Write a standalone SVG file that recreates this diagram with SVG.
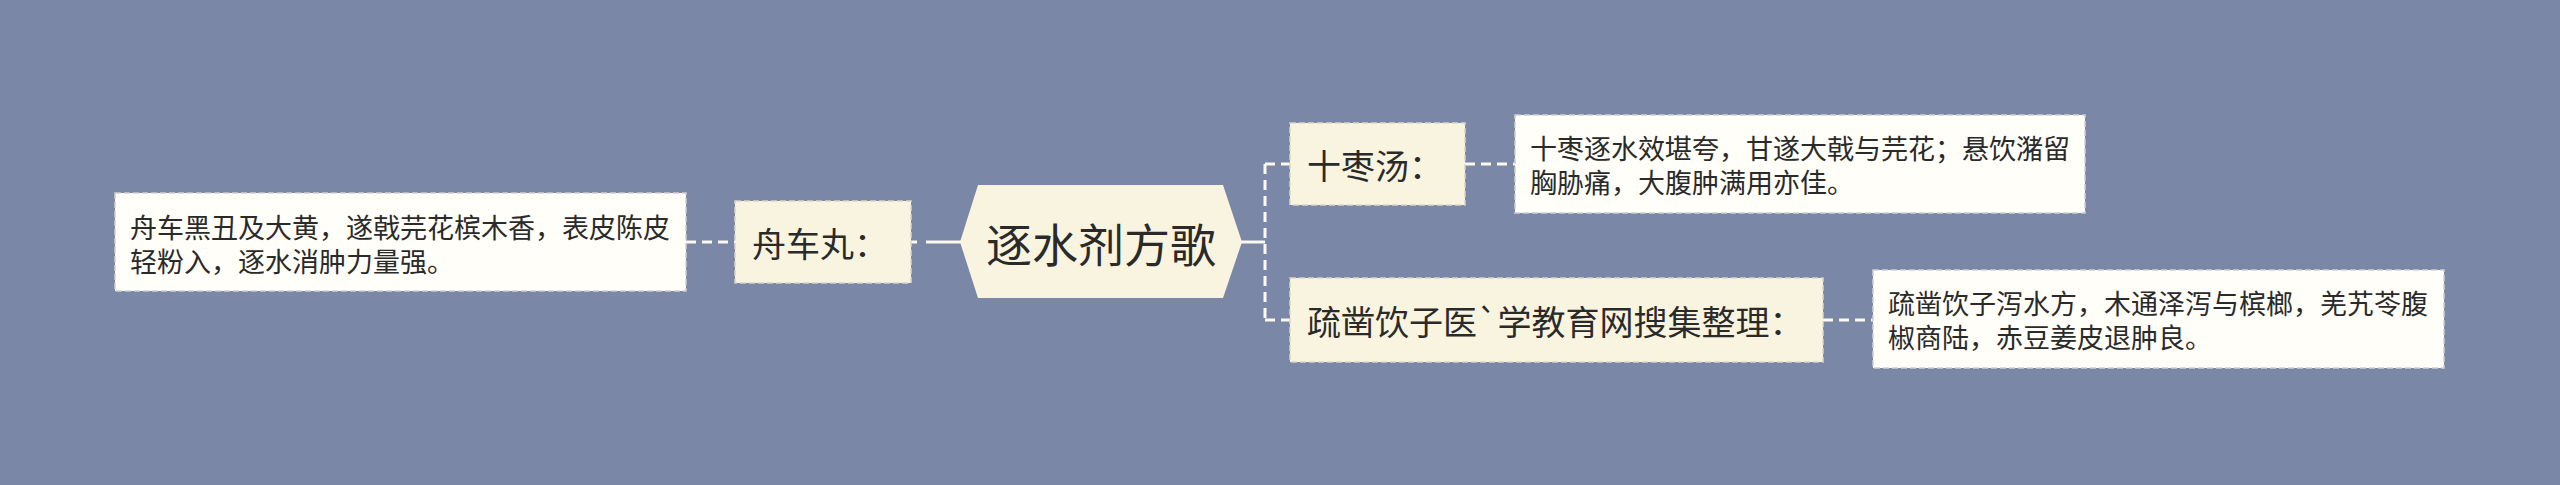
<svg xmlns="http://www.w3.org/2000/svg" width="2560" height="485" viewBox="0 0 2560 485">
  <style>
    text { font-family: "Noto Sans CJK SC", "Noto Sans", sans-serif; fill: #2a2a2a; dominant-baseline: central; }
    .root { font-size: 46px; }
    .l1 { font-size: 34px; }
    .leaf { font-size: 27px; }
    .l1box { fill: #f9f4df; stroke: #d9d6c8; stroke-width: 1.5; stroke-dasharray: 6 3; }
    .leafbox { fill: #fffef8; stroke: #d0d0d0; stroke-width: 1.5; stroke-dasharray: 6 3; }
    .conn { stroke: #fbf8ee; stroke-width: 3; fill: none; }
    .dash { stroke-dasharray: 10 6; }
  </style>
  <rect x="0" y="0" width="2560" height="485" fill="#7a87a6"/>

  <g id="connectors">
    <line class="conn dash" x1="686" y1="242" x2="735" y2="242"/>
    <line class="conn" x1="911" y1="242" x2="917" y2="242"/>
    <line class="conn" x1="926" y1="242" x2="962" y2="242"/>
    <line class="conn" x1="1241" y1="242" x2="1265" y2="242"/>
    <line class="conn dash" x1="1265" y1="164" x2="1265" y2="320"/>
    <line class="conn dash" x1="1265" y1="164" x2="1290" y2="164"/>
    <line class="conn dash" x1="1265" y1="320" x2="1290" y2="320"/>
    <line class="conn dash" x1="1465" y1="164" x2="1515" y2="164"/>
    <line class="conn dash" x1="1823" y1="320" x2="1873" y2="320"/>
  </g>

  <g id="root">
    <polygon points="960,242 978,185 1223,185 1242,242 1223,298 978,298" fill="#f9f4df"/>
    <text class="root" x="1101" y="242" text-anchor="middle">逐水剂方歌</text>
  </g>

  <g id="node-zhouche">
    <rect class="l1box" x="735" y="201" width="176" height="82"/>
    <text class="l1" x="752" y="242">舟车丸：</text>
  </g>

  <g id="leaf-zhouche">
    <rect class="leafbox" x="115" y="193" width="571" height="98"/>
    <text class="leaf" x="130" y="226">舟车黑丑及大黄，遂戟芫花槟木香，表皮陈皮</text>
    <text class="leaf" x="130" y="260">轻粉入，逐水消肿力量强。</text>
  </g>

  <g id="node-shizao">
    <rect class="l1box" x="1290" y="123" width="175" height="82"/>
    <text class="l1" x="1307" y="164">十枣汤：</text>
  </g>

  <g id="leaf-shizao">
    <rect class="leafbox" x="1515" y="115" width="570" height="98"/>
    <text class="leaf" x="1530" y="147">十枣逐水效堪夸，甘遂大戟与芫花；悬饮潴留</text>
    <text class="leaf" x="1530" y="181">胸胁痛，大腹肿满用亦佳。</text>
  </g>

  <g id="node-shuzao">
    <rect class="l1box" x="1290" y="278" width="533" height="84"/>
    <text class="l1" x="1307" y="320">疏凿饮子医`学教育网搜集整理：</text>
  </g>

  <g id="leaf-shuzao">
    <rect class="leafbox" x="1873" y="270" width="571" height="98"/>
    <text class="leaf" x="1888" y="302">疏凿饮子泻水方，木通泽泻与槟榔，羌艽苓腹</text>
    <text class="leaf" x="1888" y="336">椒商陆，赤豆姜皮退肿良。</text>
  </g>
</svg>
